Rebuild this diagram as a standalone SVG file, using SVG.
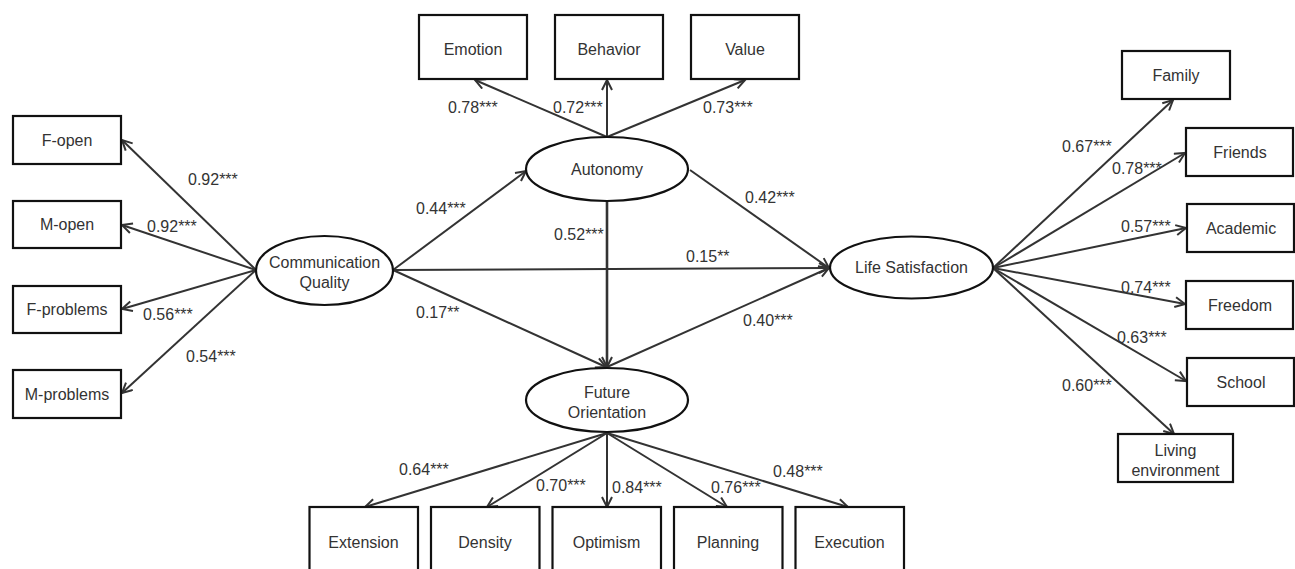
<svg xmlns="http://www.w3.org/2000/svg" width="1295" height="569" viewBox="0 0 1295 569">
<style>
.box{fill:#fff;stroke:#111;stroke-width:2.2}
.lat{fill:#fff;stroke:#111;stroke-width:2.2}
.t{font-family:"Liberation Sans",Arial,sans-serif;font-size:16px;fill:#333;text-anchor:middle}
.l{font-family:"Liberation Sans",Arial,sans-serif;font-size:16px;fill:#333}
.c{stroke:#333;stroke-width:2;fill:none;marker-end:url(#ah)}
</style>
<defs>
<marker id="ah" markerUnits="userSpaceOnUse" markerWidth="14" markerHeight="14" refX="11" refY="6" orient="auto">
<path d="M1,1 L11,6 L1,11" fill="none" stroke="#333" stroke-width="2"/>
</marker>
</defs>
<rect width="1295" height="569" fill="#fff"/>
<g id="connectors">
<line class="c" x1="256" y1="270" x2="122" y2="140"/>
<line class="c" x1="256" y1="270" x2="122" y2="225"/>
<line class="c" x1="256" y1="270" x2="122" y2="309"/>
<line class="c" x1="256" y1="270" x2="122" y2="393"/>
<line class="c" x1="607" y1="137" x2="475" y2="80"/>
<line class="c" x1="607" y1="137" x2="607" y2="80"/>
<line class="c" x1="607" y1="137" x2="745" y2="80"/>
<line class="c" x1="393" y1="270" x2="526" y2="171"/>
<line class="c" x1="393" y1="270" x2="829" y2="268"/>
<line class="c" x1="393" y1="270" x2="606" y2="367"/>
<line class="c" x1="690" y1="170" x2="829" y2="268"/>
<line class="c" x1="607" y1="201" x2="607" y2="367" style="stroke-width:2.6"/>
<line class="c" x1="607" y1="367" x2="829" y2="268"/>
<line class="c" x1="607" y1="433" x2="365" y2="507"/>
<line class="c" x1="607" y1="433" x2="487" y2="507"/>
<line class="c" x1="607" y1="433" x2="607" y2="507"/>
<line class="c" x1="607" y1="433" x2="727" y2="507"/>
<line class="c" x1="607" y1="433" x2="848" y2="507"/>
<line class="c" x1="993" y1="268" x2="1173" y2="100"/>
<line class="c" x1="993" y1="268" x2="1185" y2="153"/>
<line class="c" x1="993" y1="268" x2="1186" y2="228"/>
<line class="c" x1="993" y1="268" x2="1185" y2="304"/>
<line class="c" x1="993" y1="268" x2="1186" y2="381"/>
<line class="c" x1="993" y1="268" x2="1174" y2="434"/>
</g>
<g id="labels">
<text class="l" x="188" y="185">0.92***</text>
<text class="l" x="147" y="232">0.92***</text>
<text class="l" x="143" y="320">0.56***</text>
<text class="l" x="186" y="362">0.54***</text>
<text class="l" x="448" y="113">0.78***</text>
<text class="l" x="553" y="113">0.72***</text>
<text class="l" x="703" y="113">0.73***</text>
<text class="l" x="416" y="214">0.44***</text>
<text class="l" x="554" y="240">0.52***</text>
<text class="l" x="745" y="203">0.42***</text>
<text class="l" x="686" y="262">0.15**</text>
<text class="l" x="416" y="318">0.17**</text>
<text class="l" x="743" y="326">0.40***</text>
<text class="l" x="399" y="475">0.64***</text>
<text class="l" x="536" y="491">0.70***</text>
<text class="l" x="612" y="493">0.84***</text>
<text class="l" x="711" y="493">0.76***</text>
<text class="l" x="773" y="477">0.48***</text>
<text class="l" x="1062" y="152">0.67***</text>
<text class="l" x="1112" y="174">0.78***</text>
<text class="l" x="1121" y="232">0.57***</text>
<text class="l" x="1121" y="293">0.74***</text>
<text class="l" x="1117" y="343">0.63***</text>
<text class="l" x="1062" y="391">0.60***</text>
</g>
<g id="f-open"><rect class="box" x="13" y="116" width="108" height="48"/><text class="t" x="67" y="146">F-open</text></g>
<g id="m-open"><rect class="box" x="13" y="201" width="108" height="47"/><text class="t" x="67" y="230">M-open</text></g>
<g id="f-problems"><rect class="box" x="13" y="286" width="108" height="47"/><text class="t" x="67" y="315">F-problems</text></g>
<g id="m-problems"><rect class="box" x="13" y="370" width="108" height="48"/><text class="t" x="67" y="400">M-problems</text></g>
<g id="communication-quality"><ellipse class="lat" cx="324.5" cy="270.5" rx="68.5" ry="34.5"/><text class="t" x="324.5" y="268">Communication</text><text class="t" x="324.5" y="288">Quality</text></g>
<g id="emotion"><rect class="box" x="419" y="15" width="108" height="64"/><text class="t" x="473" y="55">Emotion</text></g>
<g id="behavior"><rect class="box" x="555" y="15" width="108" height="64"/><text class="t" x="609" y="55">Behavior</text></g>
<g id="value"><rect class="box" x="691" y="15" width="108" height="64"/><text class="t" x="745" y="55">Value</text></g>
<g id="autonomy"><ellipse class="lat" cx="607" cy="169" rx="81" ry="32"/><text class="t" x="607" y="175">Autonomy</text></g>
<g id="future-orientation"><ellipse class="lat" cx="607" cy="400" rx="81" ry="32"/><text class="t" x="607" y="398">Future</text><text class="t" x="607" y="418">Orientation</text></g>
<g id="life-satisfaction"><ellipse class="lat" cx="911.5" cy="267.5" rx="81.5" ry="31"/><text class="t" x="911.5" y="273">Life Satisfaction</text></g>
<g id="extension"><rect class="box" x="309.5" y="507" width="108.5" height="72"/><text class="t" x="363.5" y="548">Extension</text></g>
<g id="density"><rect class="box" x="431" y="507" width="108.5" height="72"/><text class="t" x="485" y="548">Density</text></g>
<g id="optimism"><rect class="box" x="552.5" y="507" width="108.5" height="72"/><text class="t" x="606.5" y="548">Optimism</text></g>
<g id="planning"><rect class="box" x="674" y="507" width="108.5" height="72"/><text class="t" x="728" y="548">Planning</text></g>
<g id="execution"><rect class="box" x="795.5" y="507" width="108.5" height="72"/><text class="t" x="849.5" y="548">Execution</text></g>
<g id="family"><rect class="box" x="1122" y="51" width="108" height="48"/><text class="t" x="1176" y="81">Family</text></g>
<g id="friends"><rect class="box" x="1186" y="128" width="107" height="48"/><text class="t" x="1240" y="158">Friends</text></g>
<g id="academic"><rect class="box" x="1187" y="204" width="107" height="48"/><text class="t" x="1241" y="234">Academic</text></g>
<g id="freedom"><rect class="box" x="1186" y="281" width="107" height="48"/><text class="t" x="1240" y="311">Freedom</text></g>
<g id="school"><rect class="box" x="1187" y="358" width="107" height="48"/><text class="t" x="1241" y="388">School</text></g>
<g id="living-environment"><rect class="box" x="1118" y="434" width="115" height="48"/><text class="t" x="1175.5" y="456">Living</text><text class="t" x="1175.5" y="476">environment</text></g>
</svg>
